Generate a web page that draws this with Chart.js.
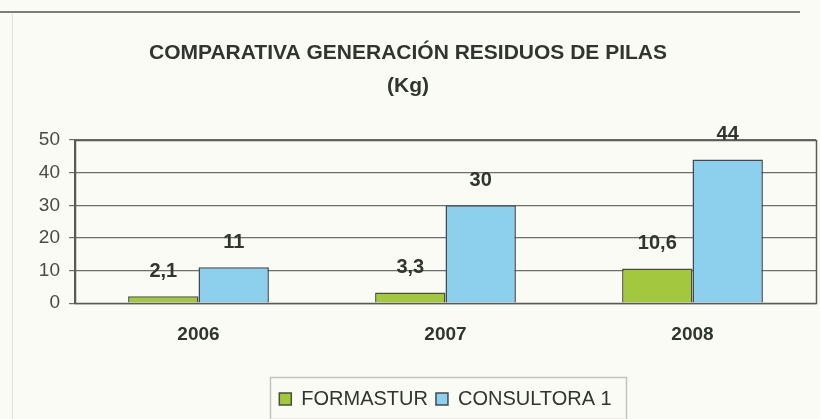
<!DOCTYPE html>
<html>
<head>
<meta charset="utf-8">
<script src="https://cdn.jsdelivr.net/npm/chart.js@4/dist/chart.umd.min.js"></script>
<style>
  html, body { margin: 0; padding: 0; background: #fbfbf5; }
  #wrap { width: 820px; height: 419px; position: relative; }
</style>
</head>
<body>
<div id="wrap"><canvas id="c" width="820" height="419"></canvas></div>
<script>
const titleLines = ['COMPARATIVA GENERACIÓN RESIDUOS DE PILAS', '(Kg)'];
const categories = ['2006', '2007', '2008'];
const seriesNames = ['FORMASTUR', 'CONSULTORA 1'];
const formasturValues = [2.1, 3.3, 10.6];
const consultoraValues = [11, 30, 44];
const yTicks = [0, 10, 20, 30, 40, 50];

const FONT = "'Liberation Sans', Arial, sans-serif";
const TEXT = '#30352f';

const pageDecor = {
  id: 'pageDecor',
  beforeDraw(chart) {
    const ctx = chart.ctx;
    ctx.save();
    ctx.strokeStyle = '#7d7d7a';
    ctx.lineWidth = 2;
    ctx.beginPath(); ctx.moveTo(0, 12); ctx.lineTo(800, 12); ctx.stroke();
    ctx.strokeStyle = '#e2e2dc';
    ctx.lineWidth = 1;
    ctx.beginPath(); ctx.moveTo(12.5, 14); ctx.lineTo(12.5, 419); ctx.stroke();
    ctx.restore();
  },
  afterDraw(chart) {
    const ctx = chart.ctx;
    const a = chart.chartArea;
    ctx.save();
    ctx.strokeStyle = '#5a5a5a';
    ctx.lineWidth = 1.5;
    ctx.strokeRect(Math.round(a.left) + 0.5, Math.round(a.top) + 0.5, Math.round(a.right - a.left), Math.round(a.bottom - a.top));
    const hb = chart.legend && chart.legend.legendHitBoxes;
    if (hb && hb.length) {
      const first = hb[0], last = hb[hb.length - 1];
      const cy = first.top + first.height / 2;
      ctx.strokeStyle = '#c4c4be';
      ctx.lineWidth = 1.5;
      ctx.strokeRect(Math.round(first.left - 9) + 0.5, Math.round(cy - 22) + 0.5,
        Math.round(last.left + last.width + 15 - (first.left - 9)), 42);
    }
    ctx.restore();
  }
};

const valueLabels = {
  id: 'valueLabels',
  afterDatasetsDraw(chart) {
    const ctx = chart.ctx;
    ctx.save();
    ctx.font = 'bold 20px ' + FONT;
    ctx.fillStyle = TEXT;
    ctx.textAlign = 'center';
    ctx.textBaseline = 'middle';
    chart.data.datasets.forEach((ds, i) => {
      const meta = chart.getDatasetMeta(i);
      meta.data.forEach((bar, j) => {
        const txt = String(ds.data[j]).replace('.', ',');
        ctx.fillText(txt, bar.x, bar.y - 25);
      });
    });
    ctx.restore();
  }
};

new Chart(document.getElementById('c'), {
  type: 'bar',
  data: {
    labels: categories,
    datasets: [
      { label: seriesNames[0], data: formasturValues, backgroundColor: '#a3c83d', borderColor: '#4a4f3a', borderWidth: 1.5 },
      { label: seriesNames[1], data: consultoraValues, backgroundColor: '#8dd0ee', borderColor: '#3f4a52', borderWidth: 1.5 }
    ]
  },
  options: {
    responsive: false,
    animation: false,
    layout: { padding: { left: 0, right: 4, top: 0, bottom: 0 } },
    datasets: { bar: { categoryPercentage: 0.57, barPercentage: 1.0 } },
    plugins: {
      title: {
        display: true,
        text: titleLines,
        color: TEXT,
        font: { family: FONT, size: 21, weight: 'bold', lineHeight: 1.571 },
        padding: { top: 37, bottom: 37 }
      },
      legend: {
        display: true,
        position: 'bottom',
        fullSize: false,
        labels: {
          color: TEXT,
          font: { family: FONT, size: 20 },
          boxWidth: 12,
          boxHeight: 12,
          padding: 8
        }
      },
      tooltip: { enabled: false }
    },
    scales: {
      x: {
        afterFit(scale) { scale.height += 15; },
        grid: { display: false, drawTicks: false },
        border: { display: false },
        ticks: { color: TEXT, font: { family: FONT, size: 19, weight: 'bold' }, padding: 20 }
      },
      y: {
        min: 0, max: 50,
        afterBuildTicks(scale) { scale.ticks = yTicks.map(v => ({ value: v })); },
        afterFit(scale) { scale.width = 75; },
        grid: { color: '#6e6e6a', lineWidth: 1.2, tickLength: 6 },
        border: { display: true, color: '#5a5a5a', width: 1.5 },
        ticks: { color: '#4a4a48', font: { family: FONT, size: 19 }, padding: 9 }
      }
    }
  },
  plugins: [pageDecor, valueLabels]
});
</script>
</body>
</html>
